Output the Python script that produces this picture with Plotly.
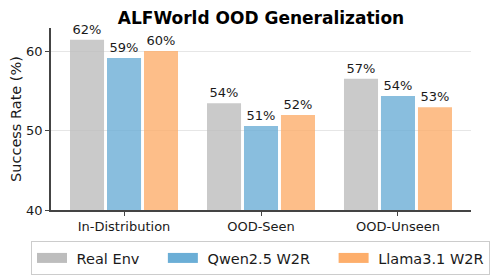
import plotly.graph_objects as go

categories = ["In-Distribution", "OOD-Seen", "OOD-Unseen"]
series_names = ["Real Env", "Qwen2.5 W2R", "Llama3.1 W2R"]
real_env = [61.5, 53.5, 56.6]
qwen_w2r = [59.2, 50.6, 54.4]
llama_w2r = [60.1, 52.0, 53.0]
y_ticks = [40, 50, 60]

series_values = [real_env, qwen_w2r, llama_w2r]
bar_colors = ["rgba(189,189,189,0.8)", "rgba(107,174,214,0.8)", "rgba(253,174,107,0.8)"]
legend_colors = ["#bdbdbd", "#6baed6", "#fdae6b"]
NB = "\u00a0"

# the page body has a default 8px margin, so the figure is 8px smaller
W, H = 491, 267
ML, MR, MT, MB = 43, 28, 20, 65
PW, PH = W - ML - MR, H - MT - MB

FONT = "DejaVu Sans"
fig = go.Figure()
for name, vals, col in zip(series_names, series_values, bar_colors):
    fig.add_trace(go.Bar(
        x=categories, y=vals, name=name, marker=dict(color=col, line=dict(width=0)),
        texttemplate="%{y:.0f}%", textposition="outside", cliponaxis=False,
        textfont=dict(family=FONT, size=13, color="#1a1a1a"), showlegend=False,
    ))
for i, (name, col) in enumerate(zip(series_names, legend_colors)):
    trail = NB * 4 if i < len(series_names) - 1 else ""
    fig.add_trace(go.Scatter(
        x=[None], y=[None], mode="lines",
        name=NB + name + trail,
        line=dict(color=col, width=10), showlegend=True,
    ))

fig.update_layout(
    width=W, height=H,
    margin=dict(l=ML, r=MR, t=MT, b=MB, autoexpand=False),
    paper_bgcolor="white", plot_bgcolor="white",
    barmode="group", bargap=0.19, bargroupgap=0.08,
    title=dict(text="<b>ALFWorld OOD Generalization</b>", x=(ML + PW / 2) / W, xanchor="center",
               y=1 - 4 / H, yanchor="top", pad=dict(t=0, b=0),
               font=dict(family=FONT, size=17, color="black")),
    font=dict(family=FONT, color="#1a1a1a"),
    xaxis=dict(range=[-0.533, 2.533], showline=True, linecolor="#444", linewidth=1.6,
               ticks="outside", ticklen=4, tickcolor="#444", tickwidth=1.2, automargin=False,
               tickfont=dict(family=FONT, size=13, color="#1a1a1a"), showgrid=False),
    yaxis=dict(range=[40, 63], tickvals=y_ticks, showline=True, linecolor="#444", linewidth=1.6,
               ticks="outside", ticklen=4, tickcolor="#444", tickwidth=1.2, automargin=False,
               tickfont=dict(family=FONT, size=13, color="#1a1a1a"),
               showgrid=True, gridcolor="#e6e6e6", gridwidth=1.2, zeroline=False,
               title=dict(text="Success Rate (%)", font=dict(family=FONT, size=14.5, color="#1a1a1a"), standoff=3)),
    legend=dict(orientation="h", x=-20 / PW, xanchor="left", xref="paper",
                y=-31 / PH, yanchor="top", yref="paper",
                bordercolor="#cccccc", borderwidth=1, bgcolor="white",
                font=dict(family=FONT, size=14.5, color="#1a1a1a"), itemwidth=30),
)

fig.write_html("out.html")
